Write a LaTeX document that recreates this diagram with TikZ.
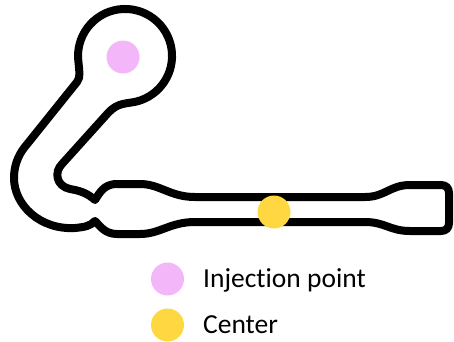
\documentclass[tikz,border=0pt]{standalone}
\usepackage{fontspec}
\setmainfont{Carlito}[RawFeature=-liga]
\definecolor{pinkdot}{RGB}{243,183,249}
\definecolor{yellowdot}{RGB}{255,215,64}
\begin{document}
\begin{tikzpicture}[x=1pt,y=1pt,yscale=-1,
  track/.style={draw=black,line width=8pt,line join=round,line cap=round},
  dot/.style={circle,inner sep=0pt,minimum size=33pt,draw=none},
  legendtext/.style={anchor=base west,inner sep=0pt,font=\fontsize{27.5}{30}\selectfont}]
\useasboundingbox (0,0) rectangle (454,341);
\draw[track] (78.5,62.5) arc[start angle=172,end angle=435,radius=47]
  .. controls (127,104) and (118,102) .. (108,113)
  -- (62,164) .. controls (54,172) and (56,186) .. (70,189)
  .. controls (82,191) and (88,194) .. (95,200)
  .. controls (100,192) and (104,185) .. (115,184)
  -- (140,184) .. controls (160,184) and (170,197) .. (195,197)
  -- (365,197) .. controls (385,197) and (390,185) .. (410,185)
  -- (441,185) .. controls (446,185) and (449,188) .. (449,193)
  -- (449,223) .. controls (449,228) and (446,231) .. (441,231)
  -- (410,231) .. controls (390,231) and (385,222) .. (365,222)
  -- (195,222) .. controls (170,222) and (160,234) .. (140,234)
  -- (117,234) .. controls (105,234) and (100,226) .. (95,221)
  .. controls (90,226) and (85,227) .. (75,228)
  .. controls (40,230) and (14,205) .. (14,178)
  .. controls (14,166) and (18,156) .. (24,148)
  -- (77,82) .. controls (81,77) and (79,70) .. cycle;
\node[dot,fill=pinkdot] (inj) at (123,57) {};
\node[dot,fill=yellowdot] (ctr) at (274,212) {};
\node[dot,fill=pinkdot] (leginj) at (167.5,279) {};
\node[dot,fill=yellowdot] (legctr) at (167.5,325) {};
\node[legendtext] (tinj) at (203,287) {Injection point};
\node[legendtext] (tctr) at (203,333) {Center};
\end{tikzpicture}
\end{document}
